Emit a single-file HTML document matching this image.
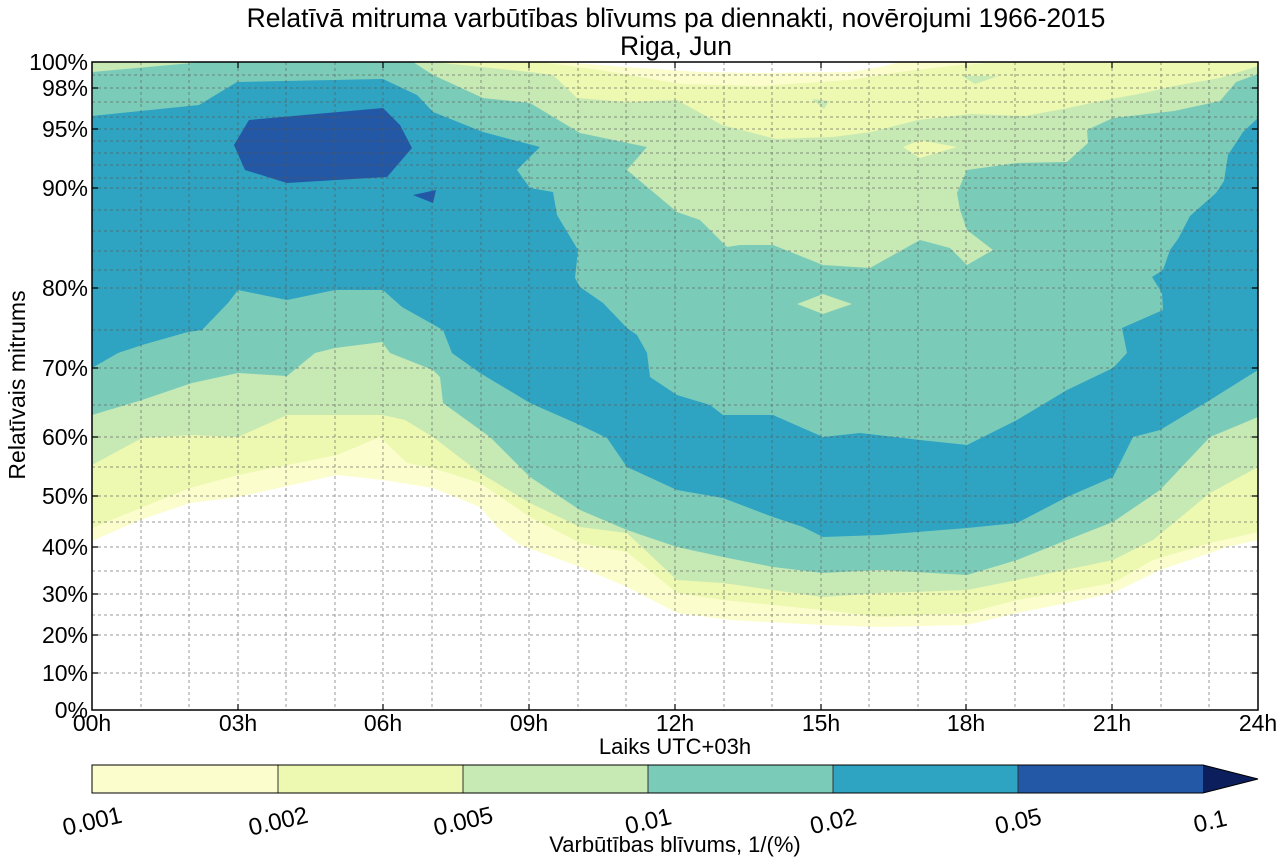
<!DOCTYPE html>
<html><head><meta charset="utf-8"><style>
html,body{margin:0;padding:0;background:#fff;}
svg{display:block;font-family:"Liberation Sans",Arial,sans-serif;}
</style></head><body>
<svg width="1284" height="863" viewBox="0 0 1284 863" xmlns="http://www.w3.org/2000/svg">
<defs><clipPath id="c"><rect x="92" y="62" width="1166" height="648"/></clipPath></defs>
<g clip-path="url(#c)">
<polygon fill="#fbfdcc" points="92,62 1258,62 1258,540 1227,547 1210,553 1160,570 1113,593 1067,603 1017,613 967,625 880,627 823,625 730,620 677,613 627,587 580,567 520,545 497,527 480,507 433,488 383,480 337,475 238,497 190,503 140,520 92,541"/>
<polygon fill="#ffffff" points="560,62 600,65 640,68 700,72 760,73 850,72 880,67 900,62"/>
<polygon fill="#edf8b1" points="92,66 200,62 540,62 600,70 680,84 760,86 850,80 900,72 950,66 1000,62 1258,62 1258,532 1210,543 1153,560 1113,583 1017,600 967,613 880,617 823,610 723,600 677,593 627,552 580,543 530,517 480,483 433,468 407,463 380,437 337,455 287,465 238,475 190,488 143,507 92,528"/>
<polygon fill="#c7e9b4" points="92,62 433,62 530,72 553,75 577,98 627,102 677,100 722,125 776,139 833,137 871,132 918,120 971,114 1025,116 1063,109 1101,101 1144,93 1174,86 1220,78 1258,66 1258,467 1210,493 1153,540 1113,560 1017,580 967,590 880,593 823,597 723,583 677,580 627,533 580,527 530,503 480,473 433,437 405,420 383,415 287,415 238,437 192,435 142,438 92,465"/>
<polygon fill="#c7e9b4" points="812,99 829,101 824,109"/>
<polygon fill="#c7e9b4" points="962,76 998,76 975,84"/>
<polygon fill="#7bcbb9" points="92,72 203,62 413,62 433,75 483,98 530,103 580,133 647,147 627,170 677,212 700,220 727,247 740,245 773,245 823,265 870,268 920,240 950,248 967,265 993,250 967,230 960,210 957,193 967,170 1017,163 1067,162 1088,143 1087,130 1113,118 1174,111 1220,101 1236,82 1258,74 1258,417 1210,437 1160,490 1113,522 1067,540 1017,560 967,575 880,570 823,573 773,567 723,557 677,547 627,530 580,510 530,477 490,437 443,403 440,377 433,370 390,353 382,342 335,348 315,353 287,376 238,373 192,383 142,400 92,415"/>
<polygon fill="#c7e9b4" points="797,304 823,294 852,304 823,314"/>
<polygon fill="#edf8b1" points="903,147 920,140 957,147 920,158"/>
<polygon fill="#2ea3c2" points="92,116 199,105 237,82 383,79 417,95 433,112 483,132 540,147 517,170 530,188 553,192 557,215 578,250 575,278 580,287 603,303 627,328 637,335 647,353 650,377 677,395 710,405 723,415 773,415 823,437 860,433 920,440 967,445 1017,420 1067,390 1113,368 1127,353 1122,328 1163,310 1162,293 1152,277 1163,270 1170,250 1178,239 1190,216 1216,193 1224,181 1228,155 1243,132 1258,118 1258,370 1210,400 1160,430 1133,437 1113,477 1067,497 1017,523 967,528 880,535 823,537 803,527 773,517 723,498 677,490 627,467 607,438 580,425 530,403 480,373 452,353 443,330 402,307 383,290 335,290 287,300 238,290 228,303 202,330 188,332 142,345 118,353 92,368"/>
<polygon fill="#2358a6" points="249,120 383,108 400,125 412,148 387,177 287,183 245,170 234,145"/>
<polygon fill="#2358a6" points="413,195 436,190 433,203"/>
</g>
<g stroke="#555" stroke-width="1" stroke-dasharray="3,3" opacity="0.6">
<path d="M141,62V710M189,62V710M238,62V710M286,62V710M335,62V710M383,62V710M432,62V710M481,62V710M529,62V710M578,62V710M626,62V710M675,62V710M724,62V710M772,62V710M821,62V710M869,62V710M918,62V710M966,62V710M1015,62V710M1064,62V710M1112,62V710M1161,62V710M1209,62V710"/>
<path d="M92,673H1258M92,635H1258M92,615H1258M92,594H1258M92,571H1258M92,547H1258M92,522H1258M92,496H1258M92,467H1258M92,437H1258M92,405H1258M92,368H1258M92,330H1258M92,288H1258M92,270H1258M92,251H1258M92,231H1258M92,210H1258M92,188H1258M92,178H1258M92,165H1258M92,153H1258M92,141H1258M92,129H1258M92,117H1258M92,102H1258M92,88H1258M92,75H1258"/>
</g>
<g stroke="#000" stroke-width="1.2">
<path d="M92,673h6M92,635h6M92,594h6M92,547h6M92,496h6M92,437h6M92,368h6M92,288h6M92,188h6M92,129h6M92,88h6M1258,673h-6M1258,635h-6M1258,594h-6M1258,547h-6M1258,496h-6M1258,437h-6M1258,368h-6M1258,288h-6M1258,188h-6M1258,129h-6M1258,88h-6"/>
<path d="M238,710v-6M383,710v-6M529,710v-6M675,710v-6M821,710v-6M966,710v-6M1112,710v-6M238,62v6M383,62v6M529,62v6M675,62v6M821,62v6M966,62v6M1112,62v6"/>
</g>
<rect x="92" y="62" width="1166" height="648" fill="none" stroke="#000" stroke-width="1.5"/>
<text x="676" y="27" font-size="26.5" text-anchor="middle">Relatīvā mitruma varbūtības blīvums pa diennakti, novērojumi 1966-2015</text>
<text x="676" y="55" font-size="26.5" text-anchor="middle">Riga, Jun</text>
<g font-size="23" text-anchor="end">
<text x="88" y="718">0%</text><text x="88" y="681">10%</text><text x="88" y="643">20%</text><text x="88" y="602">30%</text><text x="88" y="555">40%</text><text x="88" y="504">50%</text><text x="88" y="445">60%</text><text x="88" y="376">70%</text><text x="88" y="296">80%</text><text x="88" y="196">90%</text><text x="88" y="137">95%</text><text x="88" y="96">98%</text><text x="88" y="70">100%</text>
</g>
<g font-size="23" text-anchor="middle">
<text x="92" y="731">00h</text><text x="238" y="731">03h</text><text x="383" y="731">06h</text><text x="529" y="731">09h</text><text x="675" y="731">12h</text><text x="821" y="731">15h</text><text x="966" y="731">18h</text><text x="1112" y="731">21h</text><text x="1258" y="731">24h</text>
</g>
<text x="675" y="754" font-size="22" text-anchor="middle">Laiks UTC+03h</text>
<text transform="translate(25,385) rotate(-90)" font-size="23" text-anchor="middle">Relatīvais mitrums</text>
<rect x="92" y="765" width="186" height="28" fill="#fbfdcc"/>
<rect x="278" y="765" width="185" height="28" fill="#edf8b1"/>
<rect x="463" y="765" width="185" height="28" fill="#c7e9b4"/>
<rect x="648" y="765" width="185" height="28" fill="#7bcbb9"/>
<rect x="833" y="765" width="185" height="28" fill="#2ea3c2"/>
<rect x="1018" y="765" width="185" height="28" fill="#2358a6"/>
<polygon points="1203,765 1258,779 1203,793" fill="#0c1f5c"/>
<g stroke="#333" stroke-width="1"><path d="M278,765v28M463,765v28M648,765v28M833,765v28M1018,765v28"/></g>
<polygon points="92,765 1203,765 1258,779 1203,793 92,793" fill="none" stroke="#000" stroke-width="1"/>
<g font-size="24" text-anchor="middle">
<text transform="translate(94,829) rotate(-13)">0.001</text>
<text transform="translate(280,829) rotate(-13)">0.002</text>
<text transform="translate(465,829) rotate(-13)">0.005</text>
<text transform="translate(650,829) rotate(-13)">0.01</text>
<text transform="translate(835,829) rotate(-13)">0.02</text>
<text transform="translate(1020,829) rotate(-13)">0.05</text>
<text transform="translate(1212,829) rotate(-13)">0.1</text>
</g>
<text x="675" y="852" font-size="22" text-anchor="middle">Varbūtības blīvums, 1/(%)</text>
</svg>
</body></html>
